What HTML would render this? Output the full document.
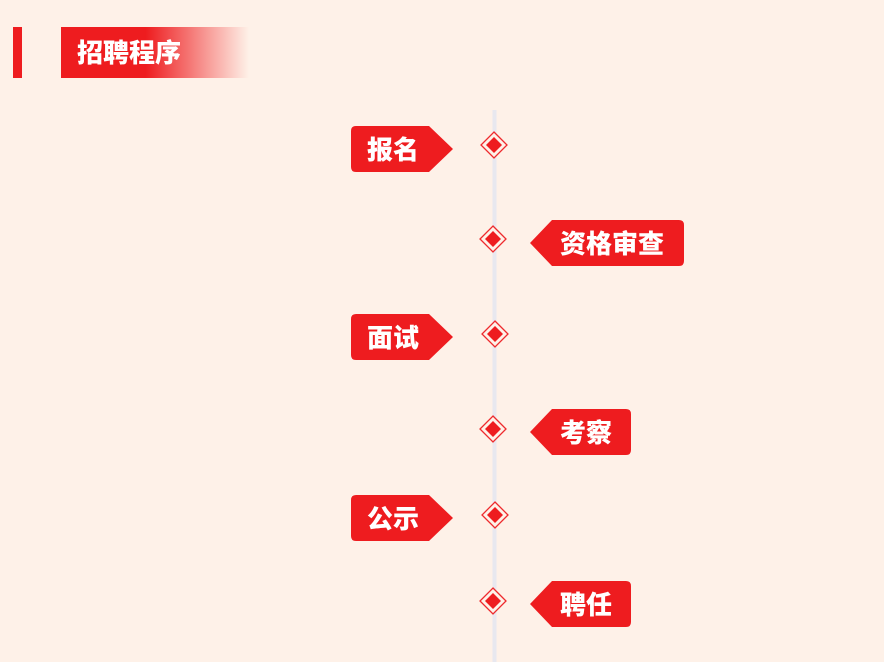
<!DOCTYPE html>
<html><head><meta charset="utf-8"><style>
html,body{margin:0;padding:0;background:#fef1e8;width:884px;height:662px;overflow:hidden}
svg{display:block}
text{font-family:"Liberation Sans","Noto Sans CJK SC",sans-serif;font-weight:900;fill:#fff}
</style></head><body>
<svg width="884" height="662" viewBox="0 0 884 662">
<defs>
<linearGradient id="g" x1="0" x2="1">
<stop offset="0" stop-color="#ee1c1f"/><stop offset="0.45" stop-color="#ee1c1f"/>
<stop offset="1" stop-color="#ee1c1f" stop-opacity="0"/></linearGradient>
<g id="dm"><path d="M0,-13 L13,0 L0,13 L-13,0Z" fill="#fef1e8" stroke="#ee2a2d" stroke-width="1.3"/><path d="M0,-8 L8,0 L0,8 L-8,0Z" fill="#ee1c1f"/></g>
</defs>
<rect x="13" y="27" width="9" height="51" fill="#ee1c1f"/>
<rect x="61" y="27" width="188" height="51" fill="url(#g)"/>
<text x="77" y="62" font-size="26">招聘程序</text>
<rect x="492.5" y="110" width="4" height="552" fill="#e8e8ef"/>
<g fill="#ee1c1f">
<path d="M356,126 H429 L453,149 L429,172 H356 Q351,172 351,167 V131 Q351,126 356,126Z"/>
<path d="M356,314 H429 L453,337 L429,360 H356 Q351,360 351,355 V319 Q351,314 356,314Z"/>
<path d="M356,495 H429 L453,518 L429,541 H356 Q351,541 351,536 V500 Q351,495 356,495Z"/>
<path d="M552,220 H679 Q684,220 684,225 V261 Q684,266 679,266 H552 L530,243Z"/>
<path d="M552,409 H626 Q631,409 631,414 V450 Q631,455 626,455 H552 L530,432Z"/>
<path d="M552,581 H626 Q631,581 631,586 V622 Q631,627 626,627 H552 L530,604Z"/>
</g>
<text x="367" y="159" font-size="26">报名</text>
<text x="367" y="347" font-size="26">面试</text>
<text x="367" y="528" font-size="26">公示</text>
<text x="560" y="253" font-size="26">资格审查</text>
<text x="560" y="442" font-size="26">考察</text>
<text x="560" y="614" font-size="26">聘任</text>
<use href="#dm" x="494" y="145"/>
<use href="#dm" x="493" y="239"/>
<use href="#dm" x="495" y="334"/>
<use href="#dm" x="493" y="429"/>
<use href="#dm" x="495" y="515"/>
<use href="#dm" x="493" y="601"/>
</svg>
</body></html>
